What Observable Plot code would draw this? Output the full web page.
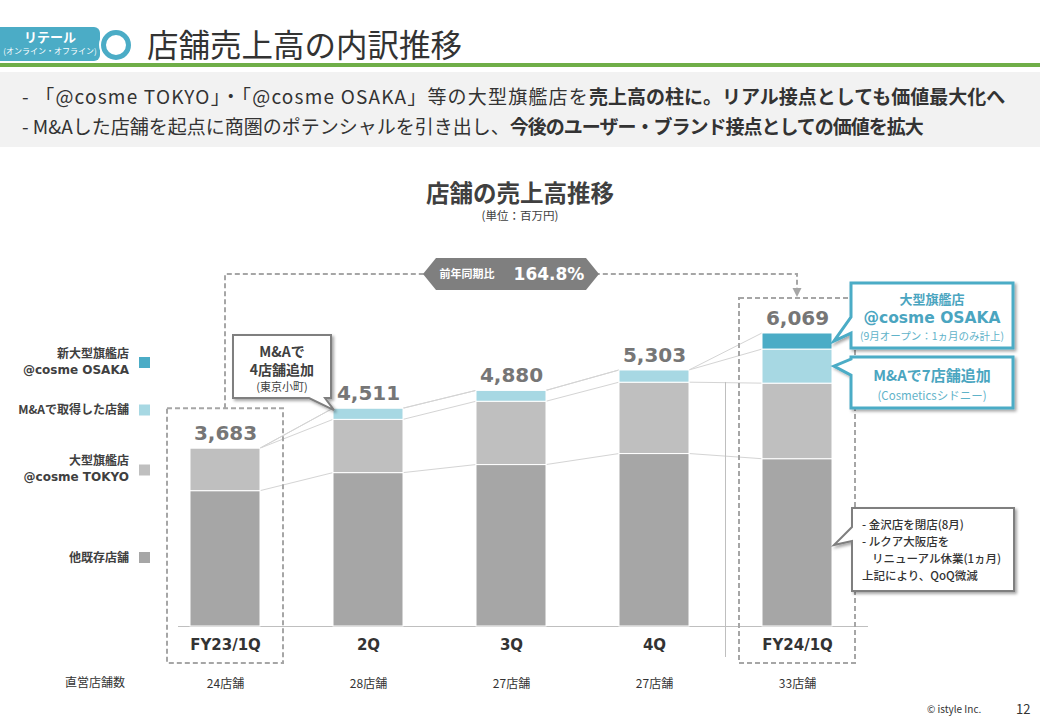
<!DOCTYPE html>
<html><head><meta charset="utf-8">
<script src="https://cdn.jsdelivr.net/npm/d3@7"></script>
<script src="https://cdn.jsdelivr.net/npm/@observablehq/plot@0.6"></script>
<style>
body{margin:0;width:1040px;height:720px;position:relative;overflow:hidden;background:#fff;font-family:"Noto Sans CJK JP","Noto Sans",sans-serif;color:#333}
.abs{position:absolute;white-space:nowrap}
#tab{left:0;top:27px;width:100px;height:34px;background:#4bacc6;color:#fff;text-align:center;border-radius:0 6px 6px 0}
#ring{left:101px;top:30px;width:20px;height:20px;border:5px solid #4bacc6;border-radius:50%;background:#fff;box-shadow:0 0 0 2px #fff}
#title{left:147px;top:21px;font-size:31.5px;line-height:44px;color:#333}
#green{left:0;top:63px;width:1040px;height:4px;background:#6fae48}
#gray{left:0;top:72px;width:1040px;height:75px;background:#f2f2f2}
.bul{left:22px;font-size:19px;line-height:28px;color:#333}
.bul b{font-weight:bold}
#ctitle{left:0;width:1040px;text-align:center;top:177px;font-size:23.5px;font-weight:bold;color:#404040;line-height:30px}
#cunit{left:0;width:1040px;text-align:center;top:207px;font-size:11.5px;color:#404040;line-height:16px}
#chart{left:0;top:150px}
#copy{left:927px;top:701px;font-size:10px;color:#333}
#page{left:1016px;top:699px;font-size:13px;color:#333}
</style></head><body>
<div class="abs" id="tab"><div style="font-size:13px;font-weight:bold;line-height:16px;margin-top:2px">リテール</div><div style="font-size:8px;line-height:12px">(オンライン・オフライン)</div></div>
<div class="abs" id="ring"></div>
<div class="abs" id="title">店舗売上高の内訳推移</div>
<div class="abs" id="green"></div>
<div class="abs" id="gray"></div>
<div class="abs bul" style="top:82px"><span style="letter-spacing:1.2px">- 「@cosme TOKYO」・「@cosme OSAKA」等の大型旗艦店を</span><b>売上高の柱に。リアル接点としても価値最大化へ</b></div>
<div class="abs bul" style="top:112px">- M&amp;Aした店舗を起点に商圏のポテンシャルを引き出し、<b style="letter-spacing:-1px">今後のユーザー・ブランド接点としての価値を拡大</b></div>
<div class="abs" id="ctitle">店舗の売上高推移</div>
<div class="abs" id="cunit">(単位：百万円)</div>
<div class="abs" id="chart"></div>
<div class="abs" id="copy">© istyle Inc.</div>
<div class="abs" id="page">12</div>
<script>
// ---- data ----
const quarters = ["FY23/1Q", "2Q", "3Q", "4Q", "FY24/1Q"];
const seriesNames = ["他既存店舗", "大型旗艦店 @cosme TOKYO", "M&Aで取得した店舗", "新大型旗艦店 @cosme OSAKA"];
const otherStores = [2803, 3177, 3344, 3572, 3465];
const tokyoStore = [880, 1103, 1311, 1478, 1565];
const maStores = [0, 231, 225, 253, 706];
const osakaStore = [0, 0, 0, 0, 333];
const totals = [3683, 4511, 4880, 5303, 6069];
const storeCounts = ["24店舗", "28店舗", "27店舗", "27店舗", "33店舗"];
const seriesColors = ["#a6a6a6", "#bfbfbf", "#a7d8e3", "#4bacc6"];
const yoyText = "164.8%";

const seriesValues = [otherStores, tokyoStore, maStores, osakaStore];
const rows = [];
quarters.forEach((q, i) => seriesValues.forEach((vals, s) => {
  if (vals[i] > 0) rows.push({q, s: seriesNames[s], v: vals[i]});
}));
const totalRows = quarters.map((q, i) => ({q, t: totals[i]}));
const countRows = quarters.map((q, i) => ({q, c: storeCounts[i]}));

const base = 476, ppu = 0.04828;
const JP = '"Noto Sans CJK JP", sans-serif';
const NUM = '"DejaVu Sans", "Noto Sans CJK JP", sans-serif';

const chart = Plot.plot({
  width: 1040, height: 560,
  marginLeft: 178, marginRight: 172, marginTop: 0, marginBottom: 0,
  x: {domain: quarters, range: [152.25, 869.75], paddingInner: 0.512, paddingOuter: 0.256, axis: null},
  y: {domain: [0, 8000], range: [base, base - 8000 * ppu], axis: null},
  color: {domain: seriesNames, range: seriesColors},
  style: {fontFamily: JP, background: "transparent", overflow: "visible"},
  marks: [
    Plot.ruleY([0], {stroke: "#bfbfbf", strokeWidth: 1}),
    Plot.barY(rows, {x: "q", y: "v", fill: "s", order: seriesNames, stroke: "#fff", strokeWidth: 1}),
    Plot.text(totalRows, {x: "q", y: "t", text: d => d3.format(",")(d.t), dy: -15, fontSize: 20, fontWeight: "bold", fill: "#767676", fontFamily: NUM}),
    Plot.text(quarters, {x: d => d, y: () => 0, dy: 19, fontSize: 15, fontWeight: "bold", fill: "#333", fontFamily: NUM}),
    Plot.text(countRows, {x: "q", y: () => 0, text: "c", dy: 58, fontSize: 12, fill: "#333", fontFamily: JP})
  ]
});
document.getElementById("chart").appendChild(chart);

// ---- annotations positioned from the Plot scales ----
const sx = chart.scale("x"), sy = chart.scale("y");
const bw = sx.bandwidth;
const L = q => sx.apply(q), R = q => sx.apply(q) + bw, C = q => sx.apply(q) + bw / 2, Y = v => sy.apply(v);
const svg = d3.select(chart);
const defs = svg.append("defs");
defs.append("filter").attr("id", "sh").attr("x", "-10%").attr("y", "-10%").attr("width", "130%").attr("height", "140%")
  .append("feDropShadow").attr("dx", 2).attr("dy", 2).attr("stdDeviation", 1.5).attr("flood-color", "#000").attr("flood-opacity", 0.35);

// connector lines between cumulative tops
const cum = seriesValues.map((_, s) => quarters.map((q, i) => d3.sum(seriesValues.slice(0, s + 1), a => a[i])));
const gConn = svg.insert("g", ":first-child");
cum.forEach(c => {
  for (let i = 0; i < quarters.length - 1; i++) {
    gConn.append("line").attr("x1", R(quarters[i])).attr("y1", Y(c[i])).attr("x2", L(quarters[i + 1])).attr("y2", Y(c[i + 1]))
      .attr("stroke", "#d4d4d4").attr("stroke-width", 1);
  }
});

// separator
const q0 = quarters[0], q4 = quarters[4];
const sepX = (C(quarters[3]) + C(q4)) / 2;
svg.append("line").attr("x1", sepX).attr("x2", sepX).attr("y1", Y(totals[3]) + 12).attr("y2", base + 31).attr("stroke", "#bfbfbf");

// dashed boxes
const dash = g => g.attr("fill", "none").attr("stroke", "#a6a6a6").attr("stroke-width", 2).attr("stroke-dasharray", "5,3");
const boxTop0 = Y(totals[0]) - 40, boxTop4 = Y(totals[4]) - 35, boxBot = base + 37;
dash(svg.append("rect").attr("x", C(q0) - 58).attr("y", boxTop0).attr("width", 116).attr("height", boxBot - boxTop0));
dash(svg.append("rect").attr("x", C(q4) - 58).attr("y", boxTop4).attr("width", 116).attr("height", boxBot - boxTop4));
const brY = 124;
dash(svg.append("path").attr("d", `M${C(q0)},${boxTop0} V${brY} H${C(q4)} V${boxTop4 - 9}`));
svg.append("path").attr("d", `M${C(q4) - 4.5},${boxTop4 - 10} L${C(q4) + 4.5},${boxTop4 - 10} L${C(q4)},${boxTop4 - 1} Z`).attr("fill", "#a6a6a6");
// hexagon label
const hx = (C(q0) + C(q4)) / 2;
svg.append("polygon").attr("points", [[hx - 88, brY], [hx - 75, brY - 16], [hx + 75, brY - 16], [hx + 88, brY], [hx + 75, brY + 16], [hx - 75, brY + 16]].join(" ")).attr("fill", "#7f7f7f");
svg.append("text").attr("x", hx - 44).attr("y", brY).attr("dy", "0.36em").attr("text-anchor", "middle").attr("fill", "#fff").attr("font-size", 11).attr("font-weight", "bold").attr("font-family", JP).text("前年同期比");
svg.append("text").attr("x", hx + 38).attr("y", brY).attr("dy", "0.36em").attr("text-anchor", "middle").attr("fill", "#fff").attr("font-size", 17).attr("font-weight", "bold").attr("font-family", NUM).text(yoyText);

// legend (left)
const legendLabels = [["他既存店舗"], ["大型旗艦店", "@cosme TOKYO"], ["M&Aで取得した店舗"], ["新大型旗艦店", "@cosme OSAKA"]];
const legendSq = [407.5, 320, 260, 212.5];
seriesNames.forEach((s, i) => {
  svg.append("rect").attr("x", 139).attr("y", legendSq[i] - 5.5).attr("width", 11).attr("height", 11).attr("fill", seriesColors[i]);
  const lines = legendLabels[i];
  lines.forEach((t, j) => {
    svg.append("text").attr("x", 129).attr("y", legendSq[i] + (lines.length === 2 ? (j === 0 ? -9 : 7) : 0)).attr("dy", "0.36em")
      .attr("text-anchor", "end").attr("font-size", 12).attr("font-weight", "bold").attr("fill", "#404040")
      .attr("font-family", t.startsWith("@") ? NUM : JP).text(t);
  });
});
svg.append("text").attr("x", 95).attr("y", base).attr("dy", 58).attr("text-anchor", "middle").attr("font-size", 12).attr("fill", "#333").attr("font-family", JP).attr("dominant-baseline", "middle").text("直営店舗数");

// callouts
function callout(pathD, stroke, sw) {
  svg.append("path").attr("d", pathD).attr("fill", "#fff").attr("stroke", stroke).attr("stroke-width", sw).attr("stroke-linejoin", "miter").attr("filter", "url(#sh)");
}
function txt(x, y, t, size, weight, fill, anchor = "middle", fam = JP) {
  svg.append("text").attr("x", x).attr("y", y).attr("dy", "0.36em").attr("text-anchor", anchor).attr("font-size", size)
    .attr("font-weight", weight).attr("fill", fill).attr("font-family", fam).text(t);
}
// 1: M&A 4 stores (points to 2Q top-left)
{
  const tipX = L(quarters[1]) + 1, tipY = Y(totals[1]) + 2;
  const x0 = 233, x1 = 331, y0 = 185, y1 = 248;
  callout(`M${x0},${y0} H${x1} V${y1} H${x1 - 6} L${tipX},${tipY} L${x1 - 22},${y1} H${x0} Z`, "#7f7f7f", 2);
  txt(282, 202, "M&Aで", 14, "bold", "#404040");
  txt(282, 220, "4店舗追加", 14, "bold", "#404040");
  txt(282, 237, "(東京小町)", 11, "normal", "#404040");
}
// 2: OSAKA
{
  const tipX = R(q4) + 2, tipY = Y(totals[4] - osakaStore[4] / 2);
  const x0 = 851, x1 = 1013, y0 = 133, y1 = 198;
  callout(`M${x0},${y0} H${x1} V${y1} H${x0} V${tipY - 8} L${tipX},${tipY} L${x0},${tipY - 24} Z`, "#4bacc6", 3);
  txt(932, 149, "大型旗艦店", 13, "bold", "#4aa5c0");
  txt(932, 167, "@cosme OSAKA", 15.5, "bold", "#4aa5c0", "middle", NUM);
  txt(932, 186, "(9月オープン：1ヵ月のみ計上)", 10.5, "normal", "#5fb3c9");
}
// 3: M&A 7 stores
{
  const tipX = R(q4) + 2, tipY = Y(otherStores[4] + tokyoStore[4] + maStores[4] / 2);
  const x0 = 851, x1 = 1013, y0 = 207, y1 = 258;
  callout(`M${x0},${y0} H${x1} V${y1} H${x0} V${tipY + 9} L${tipX},${tipY} L${x0},${tipY - 7} Z`, "#4bacc6", 3);
  txt(932, 226, "M&Aで7店舗追加", 15, "bold", "#4aa5c0");
  txt(932, 246, "(Cosmeticsシドニー)", 11.5, "normal", "#5fb3c9");
}
// 4: note on other stores
{
  const tipX = R(q4) + 2, tipY = 395;
  const x0 = 852, x1 = 1014, y0 = 358, y1 = 441;
  callout(`M${x0},${y0} H${x1} V${y1} H${x0} V${tipY - 4} L${tipX},${tipY} L${x0},${tipY - 18} Z`, "#7f7f7f", 2);
  txt(862, 375, "- 金沢店を閉店(8月)", 11.5, "500", "#333", "start");
  txt(862, 392, "- ルクア大阪店を", 11.5, "500", "#333", "start");
  txt(872, 409, "リニューアル休業(1ヵ月)", 11.5, "500", "#333", "start");
  txt(862, 426, "上記により、QoQ微減", 11.5, "500", "#333", "start");
}
</script>
</body></html>
